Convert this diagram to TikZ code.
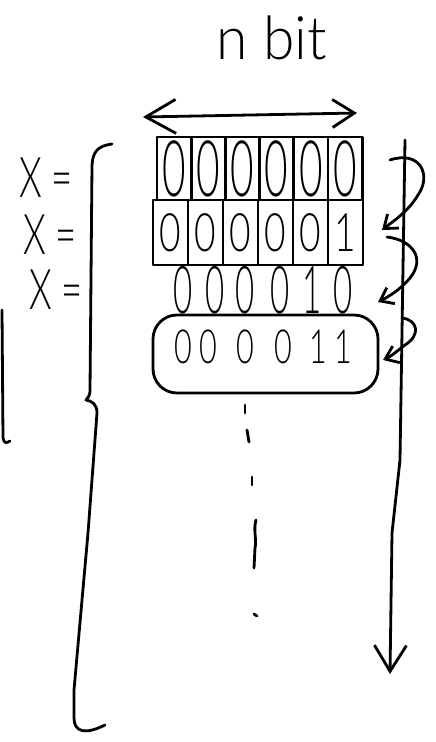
\documentclass[tikz,border=0pt]{standalone}
\usepackage{fontspec}
\usepackage{graphicx}
\setmainfont{DejaVu Sans}
\IfFontExistsTF{Lato Light}
  {\newfontfamily\thinfont{Lato Light}}
  {\IfFontExistsTF{Poppins Light}
     {\newfontfamily\thinfont{Poppins Light}}
     {\newfontfamily\thinfont{DejaVu Sans}}}
\usetikzlibrary{arrows.meta}
\newcommand{\hdig}[2]{\scalebox{#1}[1]{#2}}
\begin{document}
\begin{tikzpicture}[x=1pt,y=-1pt,
  pen/.style={line width=2.8pt, line cap=round, line join=round},
  cellA/.style={draw, pen, minimum width=34.2pt, minimum height=63pt, inner sep=0pt,
    font=\thinfont\fontsize{78}{78}\selectfont},
  cellB/.style={draw, pen, minimum width=35pt, minimum height=65pt, inner sep=0pt,
    font=\thinfont\fontsize{53}{53}\selectfont},
  digC/.style={inner sep=0pt, font=\thinfont\fontsize{66}{66}\selectfont},
  digD/.style={inner sep=0pt, font=\thinfont\fontsize{47}{47}\selectfont},
  lbl/.style={inner sep=0pt, font=\thinfont\fontsize{56}{56}\selectfont},
  smallbarb/.style={-{Straight Barb[length=12pt,width=18pt]}},
  dbl/.style={{Straight Barb[length=30pt,width=34pt]}-{Straight Barb[length=22pt,width=28pt]}}
]
\useasboundingbox (0,0) rectangle (436,742);
\fill[white] (0,0) rectangle (436,742);

% title
\node[inner sep=0pt, font=\thinfont\fontsize{60}{60}\selectfont] (nbit) at (272,38) {\hdig{0.95}{n bit}};

% width arrow
\coordinate (wl) at (143,117);
\coordinate (wr) at (357,113);
\draw[pen, dbl] (wl) -- (wr);

% row 1
\node[cellA] (c11) at (174.1,168.5) {\hdig{0.52}{0}};
\node[cellA] (c12) at (208.3,168.5) {\hdig{0.52}{0}};
\node[cellA] (c13) at (242.5,168.5) {\hdig{0.52}{0}};
\node[cellA] (c14) at (276.7,168.5) {\hdig{0.52}{0}};
\node[cellA] (c15) at (310.9,168.5) {\hdig{0.52}{0}};
\node[cellA] (c16) at (345.1,168.5) {\hdig{0.52}{0}};

% row 2
\node[cellB] (c21) at (170.5,232.5) {\hdig{0.7}{0}};
\node[cellB] (c22) at (205.5,232.5) {\hdig{0.7}{0}};
\node[cellB] (c23) at (240.5,232.5) {\hdig{0.7}{0}};
\node[cellB] (c24) at (275.5,232.5) {\hdig{0.7}{0}};
\node[cellB] (c25) at (310.5,232.5) {\hdig{0.7}{0}};
\node[cellB] (c26) at (345.5,232.5) {\hdig{0.7}{1}};

% row 3
\node[digC] (d31) at (183,290) {\hdig{0.5}{0}};
\node[digC] (d32) at (215,290) {\hdig{0.5}{0}};
\node[digC] (d33) at (245,290) {\hdig{0.5}{0}};
\node[digC] (d34) at (280,290) {\hdig{0.5}{0}};
\node[digC] (d35) at (312,290) {\hdig{0.5}{1}};
\node[digC] (d36) at (343,290) {\hdig{0.5}{0}};

% row 4
\node[draw, pen, rounded corners=24pt, minimum width=225pt, minimum height=78pt] (r4) at (265.5,354) {};
\node[digD] (d41) at (183,347) {\hdig{0.65}{0}};
\node[digD] (d42) at (208,347) {\hdig{0.65}{0}};
\node[digD] (d43) at (245,347) {\hdig{0.65}{0}};
\node[digD] (d44) at (283,347) {\hdig{0.65}{0}};
\node[digD] (d45) at (318,347) {\hdig{0.65}{1}};
\node[digD] (d46) at (343,347) {\hdig{0.65}{1}};

% labels
\node[lbl] (x1) at (46,178) {\hdig{0.65}{X =}};
\node[lbl] (x2) at (50,235) {\hdig{0.65}{X =}};
\node[lbl] (x3) at (56,290) {\hdig{0.65}{X =}};

% vertical dots
\draw[pen] (245,405) -- (245,413);
\draw[pen] (247,430) -- (249,442);
\draw[pen] (252,477) -- (252,485);
\draw[pen] (256,520) .. controls (253,530) and (257,540) .. (255,548) -- (254,568);
\draw[pen] (254,614) -- (257,616);

% left bracket
\draw[pen] (112,144) .. controls (98,146) and (93,151) .. (92,165) -- (90,390)
  .. controls (90,397) and (87,398) .. (86,400) .. controls (92,401) and (97,404) .. (97,413)
  -- (88,533) -- (82,600) -- (74,690) -- (74,718)
  .. controls (74,732) and (85,735) .. (105,725);

% small left bar
\draw[pen] (2,310) -- (3,438) .. controls (4,444) and (7,443) .. (10,441);

% right long arrow
\coordinate (vt) at (405,140);
\coordinate (vb) at (390,674);
\draw[pen, -{Straight Barb[length=26pt,width=32pt]}] (vt) -- (400,460) -- (392,533) -- (vb);

% curly step arrows
\coordinate (s1) at (390,160); \coordinate (e1) at (382,230);
\coordinate (s2) at (387,237); \coordinate (e2) at (378,302);
\coordinate (s3) at (402,318); \coordinate (e3) at (383,360);
\draw[pen, smallbarb] (s1) .. controls (420,150) and (432,175) .. (418,195) .. controls (408,212) and (392,222) .. (e1);
\draw[pen, smallbarb] (s2) .. controls (412,240) and (426,258) .. (410,278) .. controls (400,290) and (388,297) .. (e2);
\draw[pen, smallbarb] (s3) .. controls (418,320) and (421,335) .. (405,345) .. controls (396,352) and (390,357) .. (e3);
\end{tikzpicture}
\end{document}
